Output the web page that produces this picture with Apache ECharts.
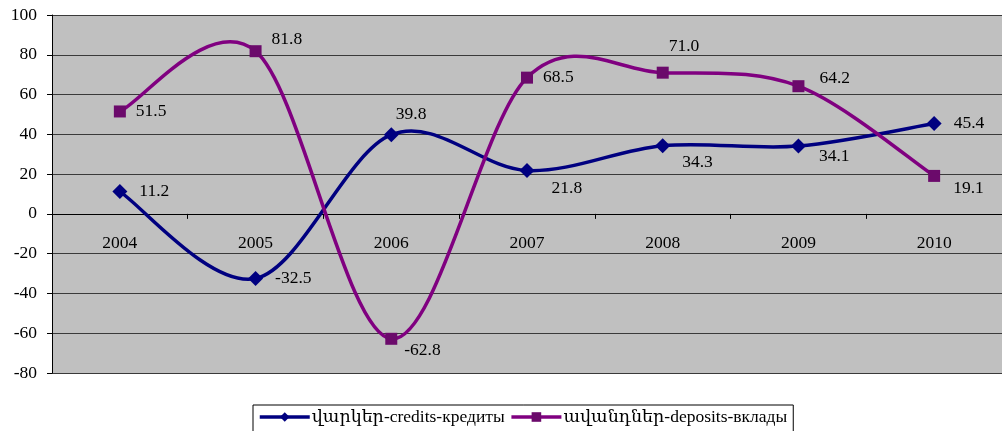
<!DOCTYPE html>
<html><head><meta charset="utf-8">
<script src="https://cdn.jsdelivr.net/npm/echarts@6/dist/echarts.min.js"></script>
<style>html,body{margin:0;padding:0;background:#fff}#c{width:1002px;height:431px}</style>
</head><body><div id="c"></div>
<script>
const categories = ['2004','2005','2006','2007','2008','2009','2010'];
const credits = [11.2, -32.5, 39.8, 21.8, 34.3, 34.1, 45.4];
const deposits = [51.5, 81.8, -62.8, 68.5, 71.0, 64.2, 19.1];
const yTicks = {min: -80, max: 100, step: 20};
const seriesNames = ['վարկեր-credits-кредиты', 'ավանդներ-deposits-вклады'];

const font = '"Liberation Serif","DejaVu Serif",serif';
const fs = 17.5;
const lw = 3.5;
const credColor = '#000080', depColor = '#800080', depMarker = '#6b0a6b';
const credLabelOff = [[12,0],[12,0],[-3,-20],[17,18],[12,17],[13,10],[12,0]];
const depLabelOff = [[10,0],[10,-12],[7,12],[10,0],[0,-26],[15,-8],[13,13]];
function mk(vals, off){
  return vals.map((v,i)=>({value:v, label:{offset:off[i]}}));
}
// Excel-style (Catmull-Rom) smoothed curve drawn through the axes' coordinate system
function curveSeries(vals, color){
  const n = vals.length;
  return {
    type:'custom', name:'_curve', z:1, silent:true,
    data: vals.map((v,i)=>[i,v]),
    renderItem:function(params, api){
      const i = params.dataIndex;
      if (i >= n-1) return null;
      const P = k => { k = Math.max(0, Math.min(n-1, k)); return api.coord([k, vals[k]]); };
      const p0 = P(i-1), p1 = P(i), p2 = P(i+1), p3 = P(i+2);
      return {type:'bezierCurve',
        shape:{x1:p1[0], y1:p1[1], x2:p2[0], y2:p2[1],
          cpx1:p1[0]+(p2[0]-p0[0])/6, cpy1:p1[1]+(p2[1]-p0[1])/6,
          cpx2:p2[0]-(p3[0]-p1[0])/6, cpy2:p2[1]-(p3[1]-p1[1])/6},
        style:{stroke:color, lineWidth:lw, fill:null, lineCap:'round'}};
    }
  };
}
const chart = echarts.init(document.getElementById('c'));
chart.setOption({
  animation:false,
  grid:{left:52,right:0,top:15,bottom:58,show:true,backgroundColor:'#C0C0C0',borderWidth:0},
  legend:{top:405,left:253,itemWidth:50,itemHeight:12,itemGap:5,
    borderColor:'#000',borderWidth:1,padding:[3,6,6,5],
    textStyle:{fontFamily:font,fontSize:17.5,color:'#000',padding:[0,0,0,-3]},
    data:[
      {name:seriesNames[0], lineStyle:{color:credColor,width:lw,opacity:1}},
      {name:seriesNames[1], lineStyle:{color:depColor,width:lw,opacity:1}}
    ]},
  xAxis:{type:'category',data:categories,boundaryGap:true,
    axisLine:{onZero:true,lineStyle:{color:'#000',width:1}},
    axisTick:{show:true,length:5,lineStyle:{color:'#000'}},
    axisLabel:{margin:-139,fontFamily:font,fontSize:fs,color:'#000'}},
  yAxis:{type:'value',min:yTicks.min,max:yTicks.max,interval:yTicks.step,
    axisLine:{show:true,lineStyle:{color:'#000'}},
    axisTick:{show:true,length:5,lineStyle:{color:'#000'}},
    axisLabel:{fontFamily:font,fontSize:fs,color:'#000',margin:15},
    splitLine:{lineStyle:{color:'#3a3a3a',width:1}}},
  series:[
    curveSeries(credits, credColor),
    curveSeries(deposits, depColor),
    {name:seriesNames[0],type:'line',z:3,data:mk(credits,credLabelOff),
      symbol:'diamond',symbolSize:15,
      lineStyle:{color:credColor,width:lw,opacity:0},itemStyle:{color:credColor},
      label:{show:true,position:'right',distance:0,fontFamily:font,fontSize:fs,color:'#000'}},
    {name:seriesNames[1],type:'line',z:3,data:mk(deposits,depLabelOff),
      symbol:'rect',symbolSize:12,
      lineStyle:{color:depColor,width:lw,opacity:0},itemStyle:{color:depMarker},
      label:{show:true,position:'right',distance:0,fontFamily:font,fontSize:fs,color:'#000',
        formatter:p=>p.value.toFixed(1)}}
  ]
});
</script></body></html>
